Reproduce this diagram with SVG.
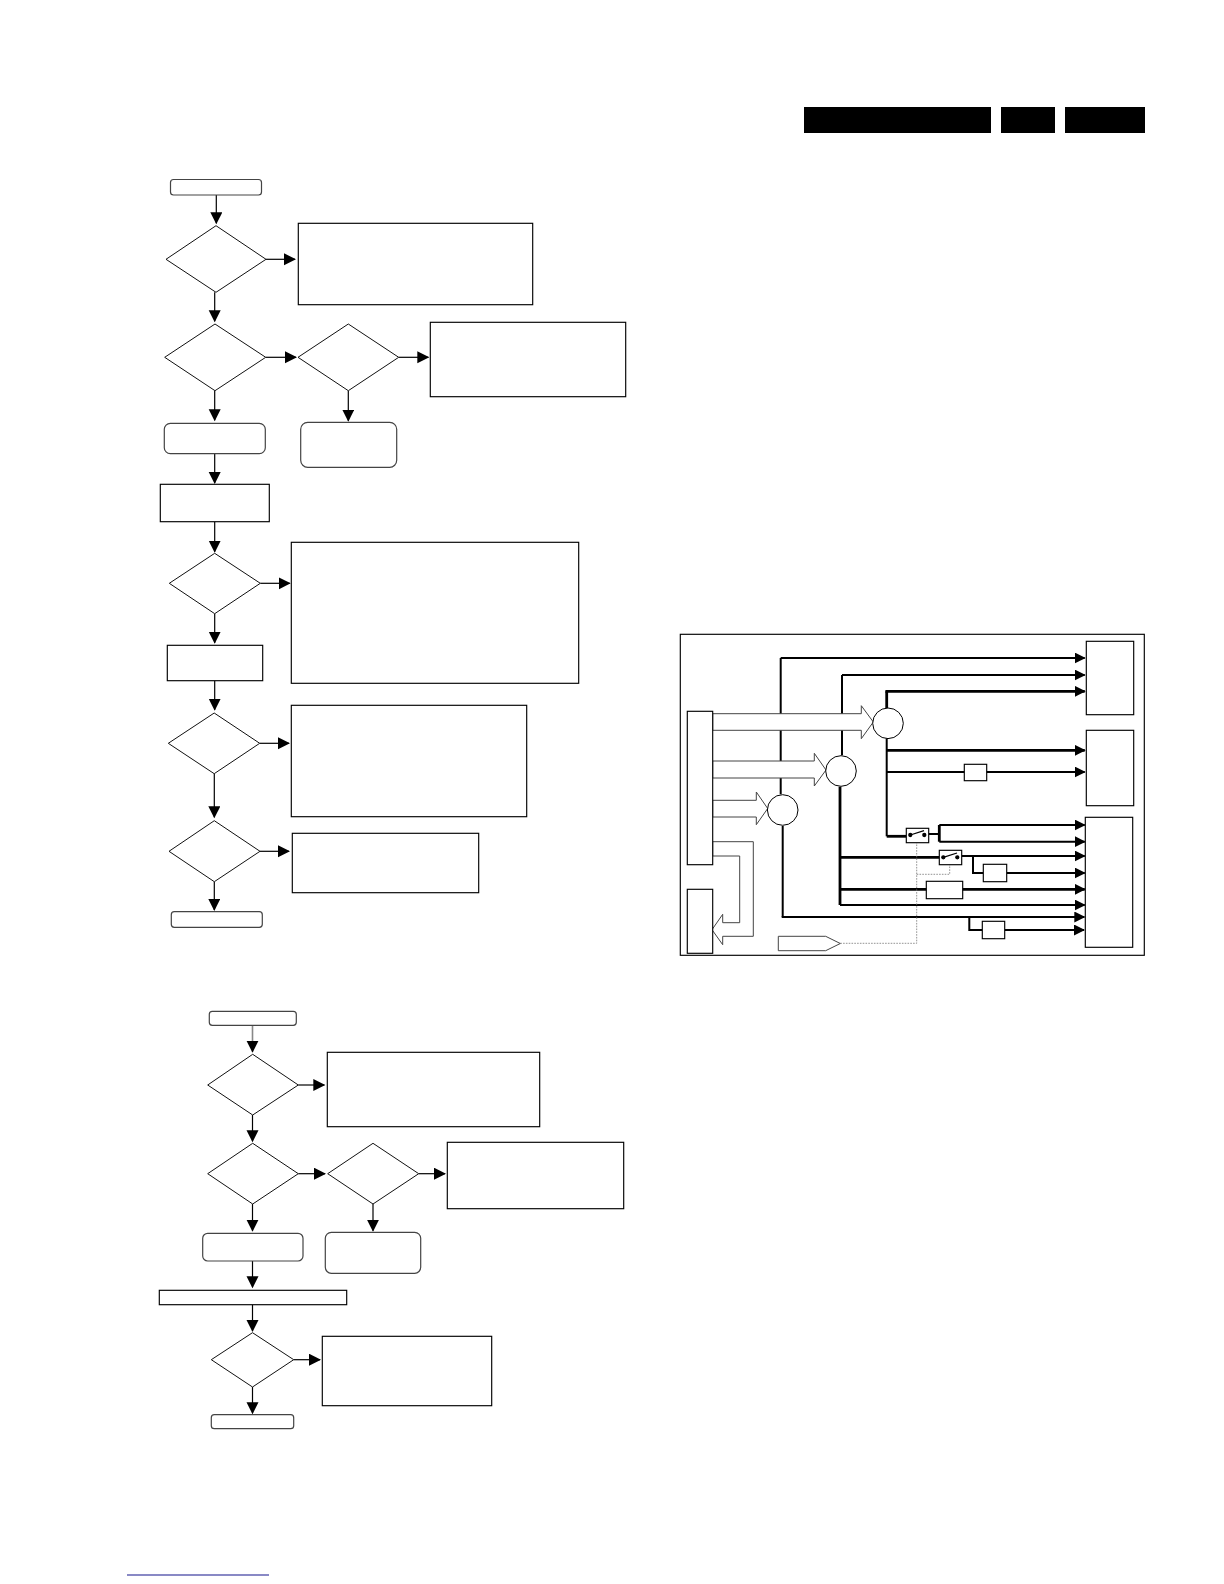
<svg xmlns="http://www.w3.org/2000/svg" width="1224" height="1584" viewBox="0 0 1224 1584">
<style>
.box{fill:#fff;stroke:#000;stroke-width:1.15}
.dia{fill:#fff;stroke:#111;stroke-width:1}
.rnd{fill:#fff;stroke:#444;stroke-width:1.2}
.bar{fill:#000;stroke:none}
.ln{fill:none;stroke:#000;stroke-width:1.2}
.a{marker-end:url(#h)}
.w2{fill:none;stroke:#000;stroke-width:2}
.w3{fill:none;stroke:#000;stroke-width:2.8}
.w2.a,.w3.a{marker-end:url(#h2)}
.hol{fill:#fff;stroke:#444;stroke-width:1}
.dot{fill:none;stroke:#777;stroke-width:.8;stroke-dasharray:1.6 1.2}
.sw{fill:#000;stroke:#000;stroke-width:1.3}
</style>
<defs>
<marker id="h" markerUnits="userSpaceOnUse" markerWidth="13" markerHeight="13" refX="11" refY="6" orient="auto"><path d="M0 0L12 6L0 12Z" fill="#000"/></marker>
<marker id="h2" markerUnits="userSpaceOnUse" markerWidth="12" markerHeight="12" refX="10" refY="5.5" orient="auto"><path d="M0 0L11 5.5L0 11Z" fill="#000"/></marker>
</defs>
<rect width="1224" height="1584" fill="#fff"/>
<g id="header">
<rect class="bar" x="804" y="107" width="187" height="26"/>
<rect class="bar" x="1001" y="107" width="54" height="26"/>
<rect class="bar" x="1065" y="107" width="80" height="26"/>
</g>
<g id="connectors-flow">
<path class="ln a" d="M216.3 195V223.3"/>
<path class="ln a" d="M266 259.3H295"/>
<path class="ln a" d="M214.7 292.3V321.3"/>
<path class="ln a" d="M265.7 357.3H296"/>
<path class="ln a" d="M398.7 357.3H428.3"/>
<path class="ln a" d="M214.7 390.7V420.3"/>
<path class="ln a" d="M348.3 390.7V420.7"/>
<path class="ln a" d="M214.7 453.7V483"/>
<path class="ln a" d="M214.7 521.7V551.7"/>
<path class="ln a" d="M260.3 583.3H289.7"/>
<path class="ln a" d="M214.7 613.7V642.7"/>
<path class="ln a" d="M214.7 680.7V709.7"/>
<path class="ln a" d="M259.7 743.3H289"/>
<path class="ln a" d="M214.3 773.7V817.3"/>
<path class="ln a" d="M260 851.3H289"/>
<path class="ln a" d="M214.3 881.7V910"/>
<path class="a" fill="none" stroke="#888" stroke-width="1.6" d="M252.5 1025.3V1051.7"/>
<path class="ln a" d="M298.3 1085H324.3"/>
<path class="ln a" d="M252.5 1115V1141.3"/>
<path class="ln a" d="M298.3 1173.7H325"/>
<path class="ln a" d="M418.7 1173.7H445"/>
<path class="ln a" d="M252.5 1204V1230.7"/>
<path class="ln a" d="M373 1204V1230.7"/>
<path class="ln a" d="M252.5 1261V1287.3"/>
<path class="ln a" d="M252.5 1304.7V1331"/>
<path class="ln a" d="M293.7 1359.7H320"/>
<path class="ln a" d="M252.5 1387V1413.3"/>
</g>
<g id="start1"><rect class="rnd" x="170.5" y="179.5" width="91" height="15.5" rx="3"/></g>
<g id="d1"><polygon class="dia" points="216,225.7 266,259.3 216,292.3 166,259.3"/></g>
<g id="b1"><rect class="box" x="298.3" y="223.3" width="234.4" height="81.4"/></g>
<g id="d2"><polygon class="dia" points="215,324 265.7,357.3 215,390.7 164.7,357.3"/></g>
<g id="d3"><polygon class="dia" points="348.3,324 398.7,357.3 348.3,390.7 298,357.3"/></g>
<g id="b2"><rect class="box" x="430.3" y="322.3" width="195.4" height="74.4"/></g>
<g id="r1"><rect class="rnd" x="164.3" y="423.3" width="101" height="30.4" rx="6"/></g>
<g id="r2"><rect class="rnd" x="300.7" y="422.3" width="96" height="45" rx="7"/></g>
<g id="b3"><rect class="box" x="160.3" y="484.3" width="109" height="37.4"/></g>
<g id="d4"><polygon class="dia" points="214.7,553.3 260.3,583.3 214.7,613.7 169.3,583.3"/></g>
<g id="b4"><rect class="box" x="291.3" y="542.3" width="287.4" height="141"/></g>
<g id="b5"><rect class="box" x="167.3" y="645.3" width="95.4" height="35.4"/></g>
<g id="d5"><polygon class="dia" points="214.2,713 259.7,743.3 214.2,773.7 168.3,743.3"/></g>
<g id="b6"><rect class="box" x="291.3" y="705.3" width="235.4" height="111.4"/></g>
<g id="d6"><polygon class="dia" points="214.3,820.7 260,851.3 214.3,881.7 169,851.3"/></g>
<g id="b7"><rect class="box" x="292.3" y="833.3" width="186.4" height="59.4"/></g>
<g id="end1"><rect class="rnd" x="171.3" y="911.7" width="91" height="15.6" rx="3"/></g>
<g id="start2"><rect class="rnd" x="209.3" y="1011.3" width="87" height="14" rx="3"/></g>
<g id="d7"><polygon class="dia" points="252.7,1054.3 298.3,1085 252.7,1115 207.7,1085"/></g>
<g id="b8"><rect class="box" x="327.3" y="1052.3" width="212.4" height="74.4"/></g>
<g id="d8"><polygon class="dia" points="252.7,1143.3 298.3,1173.7 252.7,1204 207.7,1173.7"/></g>
<g id="d9"><polygon class="dia" points="373,1143.3 418.7,1173.7 373,1204 327.7,1173.7"/></g>
<g id="b9"><rect class="box" x="447.3" y="1142.3" width="176.4" height="66.4"/></g>
<g id="r3"><rect class="rnd" x="202.7" y="1233.3" width="100.3" height="27.7" rx="5"/></g>
<g id="r4"><rect class="rnd" x="325.3" y="1232.3" width="95.4" height="41" rx="6"/></g>
<g id="b10"><rect class="box" x="159.3" y="1290.3" width="187.4" height="14.4"/></g>
<g id="d10"><polygon class="dia" points="252.5,1332.7 293.7,1359.7 252.5,1387 211.3,1359.7"/></g>
<g id="b11"><rect class="box" x="322.3" y="1336.3" width="169.4" height="69.4"/></g>
<g id="end2"><rect class="rnd" x="211.3" y="1414.7" width="82.4" height="14" rx="3"/></g>
<g id="frame"><rect class="box" x="680.3" y="634.3" width="464" height="321"/></g>
<g id="connectors-schematic">
<path class="w2" d="M780.7 794.3V658"/>
<path class="w2 a" d="M780.7 658H1084.7"/>
<path class="w2" d="M842 755.3V675"/>
<path class="w2 a" d="M842 675H1084.7"/>
<path class="w3" d="M886.7 708.3V691.3"/>
<path class="w3 a" d="M885.4 691.3H1084.7"/>
<path class="w2" d="M886.7 738.3V836.3"/>
<path class="w3 a" d="M886.7 750.3H1084.7"/>
<path class="w2 a" d="M886.7 772H1084.7"/>
<path class="w3" d="M886.7 836.3H906.3"/>
<path class="w2" d="M928.7 834H939.3"/>
<path class="w3" d="M939.3 825V841.7"/>
<path class="w2 a" d="M939.3 825H1084.7"/>
<path class="w2 a" d="M939.3 841.7H1084.7"/>
<path class="w3" d="M840 786.7V905"/>
<path class="w3" d="M840 857.3H939.3"/>
<path class="w2 a" d="M961.7 856H1084.7"/>
<path class="w2" d="M973 856V873H983.3"/>
<path class="w2 a" d="M1006.7 873H1084.7"/>
<path class="w3 a" d="M840 889.3H1084.7"/>
<path class="w2 a" d="M840 905H1084.7"/>
<path class="w2" d="M782.7 826V917"/>
<path class="w2 a" d="M781.7 917H1084.3"/>
<path class="w2" d="M969.3 917V930H982.3"/>
<path class="w2 a" d="M1004.7 930H1084"/>
<path class="dot" d="M840.3 943.3H916.7V842.7"/>
<path class="dot" d="M916.7 874.3H949.7V864.7"/>
</g>
<g id="hollow-arrows">
<path class="hol" d="M712.7 713.7H861.3V705.7L873.3 722L861.3 738.7V730.3H712.7Z"/>
<path class="hol" d="M712.7 761H814.3V753.3L826 770L814.3 786V778H712.7Z"/>
<path class="hol" d="M712.7 800.3H756.3V792L767.7 808.5L756.3 824.7V817H712.7Z"/>
<path class="hol" d="M712.7 841.7H753.3V936.3H722.7V944.7L712 929.7L722.7 914.3V922.7H739.7V856H712.7Z"/>
</g>
<g id="c1"><circle class="box" style="stroke-width:1" cx="888" cy="723.3" r="15.3"/></g>
<g id="c2"><circle class="box" style="stroke-width:1" cx="841" cy="771" r="15.3"/></g>
<g id="c3"><circle class="box" style="stroke-width:1" cx="782.7" cy="810" r="15.3"/></g>
<g id="n-l1"><rect class="box" x="687.3" y="711.3" width="25.4" height="153.4"/></g>
<g id="n-l2"><rect class="box" x="687.3" y="889.3" width="25.4" height="64"/></g>
<g id="n-r1"><rect class="box" x="1086.3" y="641.3" width="47.4" height="73.4"/></g>
<g id="n-r2"><rect class="box" x="1086.3" y="730.3" width="47.4" height="75.4"/></g>
<g id="n-r3"><rect class="box" x="1085.3" y="817.3" width="47.4" height="130"/></g>
<g id="sm1"><rect class="box" x="964.3" y="764.3" width="22.4" height="16.4"/></g>
<g id="sm2"><rect class="box" x="983.3" y="864.3" width="23.4" height="17.4"/></g>
<g id="sm3"><rect class="box" x="926.3" y="881.3" width="36.4" height="17.4"/></g>
<g id="sm4"><rect class="box" x="982.3" y="921.3" width="22.4" height="17.4"/></g>
<g id="sw1"><rect class="box" x="906.3" y="828.3" width="22.4" height="14.4"/><circle class="sw" cx="910.3" cy="835" r="1.5"/><circle class="sw" cx="924.3" cy="835" r="1.5"/><path class="sw" d="M910.3 835L924 830.7"/></g>
<g id="sw2"><rect class="box" x="939.3" y="850.3" width="22.4" height="14.4"/><circle class="sw" cx="943.3" cy="857.3" r="1.5"/><circle class="sw" cx="957.3" cy="857.3" r="1.5"/><path class="sw" d="M943.3 857.3L957 853"/></g>
<g id="tag"><polygon class="hol" points="778.3,936.3 825.7,936.3 840.3,943.5 825.7,950.7 778.3,950.7"/></g>
<g id="footer"><path fill="none" stroke="#14148c" stroke-width="1.2" d="M127 1575H269"/></g>
</svg>
